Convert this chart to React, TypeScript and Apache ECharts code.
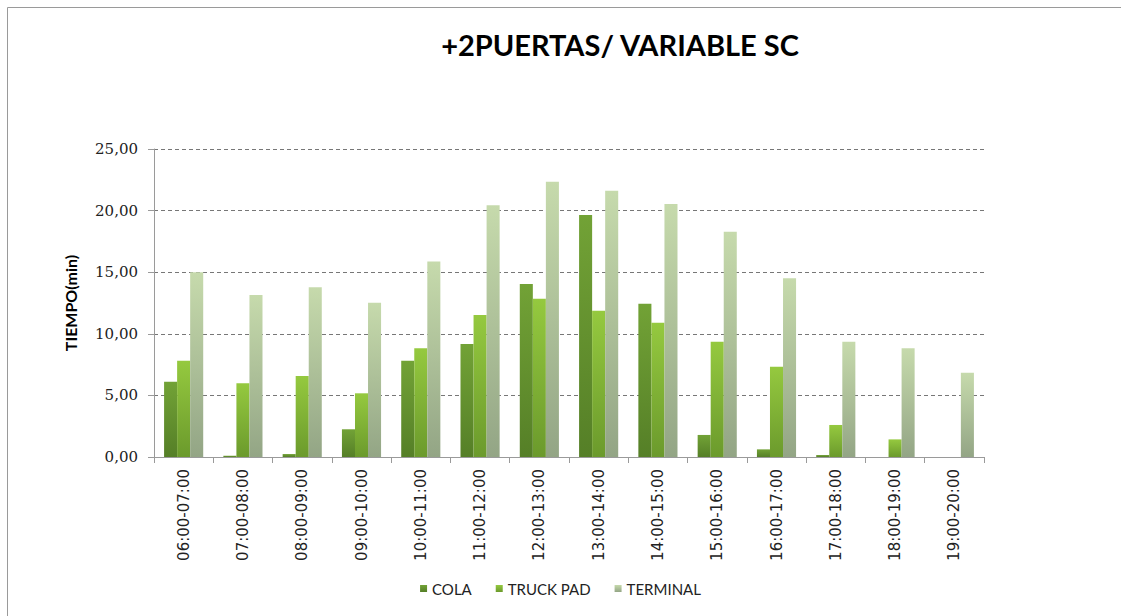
import React, { useEffect, useRef } from "react";
import * as echarts from "echarts";

const categories = [
  "06:00-07:00", "07:00-08:00", "08:00-09:00", "09:00-10:00", "10:00-11:00",
  "11:00-12:00", "12:00-13:00", "13:00-14:00", "14:00-15:00", "15:00-16:00",
  "16:00-17:00", "17:00-18:00", "18:00-19:00", "19:00-20:00",
];
const cola = [6.11, 0.1, 0.24, 2.25, 7.82, 9.17, 14.04, 19.64, 12.44, 1.79, 0.62, 0.16, 0, 0];
const truckPad = [7.82, 5.98, 6.57, 5.17, 8.82, 11.53, 12.85, 11.88, 10.9, 9.36, 7.33, 2.6, 1.43, 0];
const terminal = [14.99, 13.15, 13.77, 12.53, 15.86, 20.43, 22.35, 21.62, 20.54, 18.29, 14.5, 9.36, 8.82, 6.84];
const seriesNames = ["COLA", "TRUCK PAD", "TERMINAL"];
const yTicks = { min: 0, max: 25, interval: 5 };

const grad = (top: string, bottom: string) =>
  new echarts.graphic.LinearGradient(0, 0, 0, 1, [
    { offset: 0, color: top },
    { offset: 1, color: bottom },
  ]);

export default function App() {
  const ref = useRef<HTMLDivElement>(null);
  useEffect(() => {
    if (!ref.current) return;
    const chart = echarts.init(ref.current, undefined, { renderer: "svg" });
    const colors = [
      grad("#72a236", "#557f27"),
      grad("#95c93f", "#6b9a2c"),
      grad("#c6daac", "#93a585"),
    ];
    const data = [cola, truckPad, terminal];
    chart.setOption({
      animation: false,
      backgroundColor: "#ffffff",
      title: {
        text: "+2PUERTAS/ VARIABLE SC",
        left: 615,
        top: 25,
        textAlign: "center",
        textStyle: { fontFamily: "Lato", fontWeight: "bold", fontSize: 29, color: "#000" },
      },
      graphic: [
        {
          type: "rect",
          shape: { x: 7.5, y: 7.5, width: 1200, height: 700 },
          style: { fill: "none", stroke: "#9a9a9a", lineWidth: 1 },
          silent: true,
        },
      ],
      legend: {
        bottom: 15,
        left: "center",
        itemWidth: 7,
        itemHeight: 7,
        itemGap: 24,
        icon: "rect",
        textStyle: { fontFamily: "Lato", fontSize: 15, color: "#222" },
        data: seriesNames,
      },
      grid: { left: 154, right: 137, top: 149, bottom: 159 },
      xAxis: {
        type: "category",
        data: categories,
        axisLine: { show: true, lineStyle: { color: "#9a9a9a" } },
        axisTick: { show: true, length: 6, lineStyle: { color: "#9a9a9a" } },
        axisLabel: {
          rotate: 90,
          margin: 12,
          fontFamily: "DejaVu Sans",
          fontSize: 15,
          color: "#222",
          interval: 0,
        },
      },
      yAxis: {
        type: "value",
        min: yTicks.min,
        max: yTicks.max,
        interval: yTicks.interval,
        name: "TIEMPO(min)",
        nameLocation: "middle",
        nameGap: 76,
        nameRotate: 90,
        nameTextStyle: { fontFamily: "Lato", fontWeight: "bold", fontSize: 16, color: "#000" },
        axisLine: { show: true, lineStyle: { color: "#9a9a9a" } },
        axisTick: { show: true, length: 6, lineStyle: { color: "#9a9a9a" } },
        axisLabel: {
          margin: 16,
          fontFamily: "DejaVu Serif",
          fontSize: 15,
          color: "#222",
          formatter: (v: number) => v.toFixed(2).replace(".", ","),
        },
        splitLine: { show: true, lineStyle: { color: "#777", type: [4, 3], width: 1 } },
      },
      series: seriesNames.map((name, i) => ({
        name,
        type: "bar",
        data: data[i],
        barGap: "0%",
        barCategoryGap: "34%",
        itemStyle: { color: colors[i] },
      })),
    });
    return () => chart.dispose();
  }, []);
  return (
    <div
      ref={ref}
      style={{ position: "fixed", left: 0, top: 0, width: 1121, height: 616 }}
    />
  );
}
